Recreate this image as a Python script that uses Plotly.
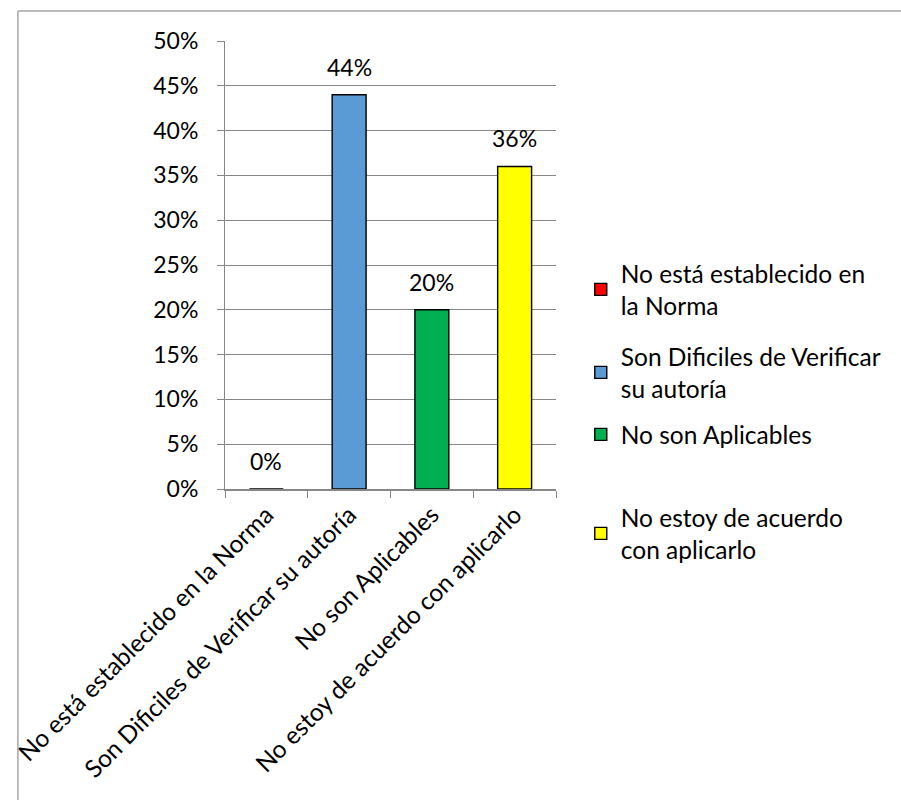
import plotly.graph_objects as go

# Survey answers and their shares
categories = [
    "No está establecido en la Norma",
    "Son Dificiles de Verificar su autoría",
    "No son Aplicables",
    "No estoy de acuerdo con aplicarlo",
]
legend_labels = [
    "No está establecido en<br>la Norma",
    "Son Dificiles de Verificar<br>su autoría",
    "No son Aplicables",
    "No estoy de acuerdo<br>con aplicarlo",
]
shares = [0.00, 0.44, 0.20, 0.36]
colors = ["#FF0000", "#5B9BD5", "#00B050", "#FFFF00"]

FONT = "Lato"
FS = 23        # numbers (axis ticks, data labels)
FS_TEXT = 24.5  # category text (x ticks, legend)
W, H = 901, 800
L, R, T, B = 222, 556, 41, 489  # plot area in pixels


def px_x(px):
    return (px - L) / (R - L)


def px_y(py):
    return (B - py) / (B - T)


legend_tops = [251, 334, 412, 495]
legend_names = ["legend", "legend2", "legend3", "legend4"]

fig = go.Figure()
for cat, lab, val, col, lg in zip(categories, legend_labels, shares, colors, legend_names):
    fig.add_trace(go.Bar(
        x=[cat], y=[val], name=lab, width=0.41,
        marker=dict(color=col, line=dict(color="#000000", width=1.4)),
        legend=lg, hoverinfo="x+y",
    ))
    fig.add_annotation(
        x=cat, y=val, text=f"{val * 100:.0f}%", showarrow=False,
        yanchor="bottom", yshift=12,
        font=dict(family=FONT, size=FS, color="#000000"),
    )

legend_common = dict(
    xanchor="left", yanchor="top", x=px_x(581),
    bgcolor="rgba(0,0,0,0)", borderwidth=0,
    font=dict(family=FONT, size=FS_TEXT, color="#000000"),
)
layout_legends = {}
for lg, top in zip(legend_names, legend_tops):
    layout_legends[lg] = dict(legend_common, y=px_y(top))

fig.update_layout(
    width=W, height=H,
    margin=dict(l=L, r=W - R, t=T, b=H - B),
    paper_bgcolor="#FFFFFF", plot_bgcolor="#FFFFFF",
    barmode="overlay",
    showlegend=True,
    font=dict(family=FONT, size=FS, color="#000000"),
    xaxis=dict(
        type="category", categoryorder="array", categoryarray=categories,
        tickangle=-45, tickson="boundaries", ticks="outside", ticklen=7,
        tickcolor="#878787", showline=True, linecolor="#878787", linewidth=1.5,
        showgrid=False, layer="above traces",
        tickfont=dict(family=FONT, size=FS_TEXT, color="#000000"),
        fixedrange=True,
    ),
    yaxis=dict(
        range=[0, 0.5], dtick=0.05, tickformat=".0%",
        ticks="outside", ticklen=7, tickcolor="#878787",
        showline=True, linecolor="#878787", linewidth=1,
        showgrid=True, gridcolor="#878787", gridwidth=1,
        zeroline=False, ticklabelstandoff=14,
        tickfont=dict(family=FONT, size=FS, color="#000000"),
        fixedrange=True,
    ),
    **layout_legends,
)

# Chart frame (left and top edges)
frame = dict(type="line", xref="paper", yref="paper",
             line=dict(color="#A6A6A6", width=1.5), layer="above")
fig.add_shape(frame, x0=px_x(13), x1=px_x(13), y0=px_y(11), y1=px_y(820))
fig.add_shape(frame, x0=px_x(13), x1=px_x(910), y0=px_y(11), y1=px_y(11))

fig.write_html("out.html")
